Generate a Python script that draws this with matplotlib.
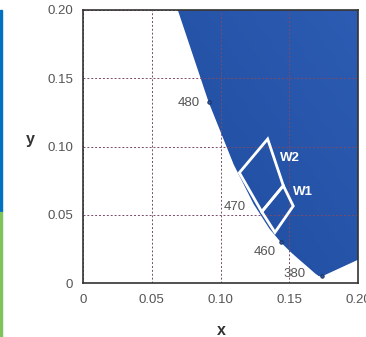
import matplotlib
matplotlib.use("Agg")
import matplotlib.pyplot as plt
import numpy as np
from matplotlib.patches import Polygon, Rectangle
from matplotlib.colors import LinearSegmentedColormap

# CIE 1931 spectral locus (blue end) + line of purples to 700 nm
locus_nm = [380, 400, 420, 430, 440, 450, 455, 460, 465, 470, 475, 480, 485, 490,
            500, 520, 540, 560, 580, 600, 620, 700]
locus_x = [0.1741, 0.1733, 0.1714, 0.1689, 0.1644, 0.1566, 0.1510, 0.1440, 0.1355,
           0.1241, 0.1096, 0.0913, 0.0687, 0.0454, 0.0082, 0.0743, 0.2296, 0.3731,
           0.5125, 0.6270, 0.6915, 0.7347]
locus_y = [0.0050, 0.0048, 0.0051, 0.0069, 0.0109, 0.0177, 0.0227, 0.0297, 0.0399,
           0.0578, 0.0868, 0.1327, 0.2007, 0.2950, 0.5384, 0.8338, 0.7543, 0.6245,
           0.4866, 0.3725, 0.3083, 0.2653]

# labelled wavelengths and where their text sits
label_nm = [480, 470, 460, 380]
label_x = [0.085, 0.1185, 0.1404, 0.1622]
label_y = [0.1319, 0.0557, 0.0227, 0.0066]
dot_nm = [480, 460, 380]

# the two emission windows
w2_x = [0.1137, 0.1343, 0.1457, 0.1300]
w2_y = [0.0808, 0.1055, 0.0713, 0.0522]
w1_x = [0.1300, 0.1457, 0.1529, 0.1396]
w1_y = [0.0522, 0.0713, 0.0564, 0.0371]

ticks = [0, 0.05, 0.10, 0.15, 0.20]
tick_labels = ["0", "0.05", "0.10", "0.15", "0.20"]


def main():
    plt.rcParams['font.family'] = ['Liberation Sans', 'DejaVu Sans']
    fig = plt.figure(figsize=(3.66, 3.37), dpi=100)
    ax = fig.add_axes([83 / 366, 54 / 337, 275 / 366, 273 / 337])

    # gamut fill with a soft gradient clipped to the locus
    poly = Polygon(np.column_stack([locus_x, locus_y]), closed=True,
                   facecolor='none', edgecolor='none')
    ax.add_patch(poly)
    gx, gy = np.meshgrid(np.linspace(0, 1, 200), np.linspace(0, 1, 200))
    cmap = LinearSegmentedColormap.from_list("bl", ["#1b4799", "#2c5cb3"])
    im = ax.imshow(gx * 0.6 + gy * 0.4, extent=[0, 0.2, 0, 0.2], origin='lower',
                   cmap=cmap, aspect='auto', zorder=1)
    im.set_clip_path(poly)

    ax.grid(True, color="#7b4a6a", linestyle=(0, (2, 2)), linewidth=0.7, zorder=2)
    ax.set_axisbelow(False)

    for nm in dot_nm:
        i = locus_nm.index(nm)
        ax.plot(locus_x[i], locus_y[i], 'o', ms=2.5, mfc="#2a5ab0", mec="#1a2a50",
                mew=0.6, zorder=3)
    for nm, tx, ty in zip(label_nm, label_x, label_y):
        ax.text(tx, ty, str(nm), ha='right', va='center', fontsize=9.5,
                color="#555555", zorder=4)

    for xs, ys in [(w2_x, w2_y), (w1_x, w1_y)]:
        ax.add_patch(Polygon(np.column_stack([xs, ys]), closed=True, fill=False,
                             edgecolor='white', linewidth=2, joinstyle='miter', zorder=5))
    ax.text(0.1430, 0.0914, "W2", color='white', fontweight='bold', fontsize=9.5,
            va='center', zorder=6)
    ax.text(0.1527, 0.0666, "W1", color='white', fontweight='bold', fontsize=9.5,
            va='center', zorder=6)

    ax.set_xlim(0, 0.2)
    ax.set_ylim(0, 0.2)
    ax.set_xticks(ticks, tick_labels)
    ax.set_yticks(ticks, tick_labels)
    ax.tick_params(length=0, labelsize=9.5, labelcolor="#555555")
    ax.tick_params(axis='y', pad=7)
    ax.tick_params(axis='x', pad=8)
    for s in ax.spines.values():
        s.set_color("#333333")
        s.set_linewidth(1.2)
        s.set_zorder(7)

    ax.set_xlabel("x", fontsize=11.5, fontweight='bold', color="#333333")
    ax.set_ylabel("y", fontsize=11.5, fontweight='bold', color="#333333", rotation=0)
    ax.xaxis.set_label_coords(0.502, -0.1465)
    ax.yaxis.set_label_coords(-0.193, 0.498)

    # coloured edge bars at the left of the panel
    fig.add_artist(Rectangle((0, 125 / 337), 1.5 / 366, 202 / 337,
                             transform=fig.transFigure, color="#0070c0"))
    fig.add_artist(Rectangle((0, 0), 1.5 / 366, 125 / 337,
                             transform=fig.transFigure, color="#7dc35b"))

    fig.savefig("out.png", dpi=100)


if __name__ == '__main__':
    main()
